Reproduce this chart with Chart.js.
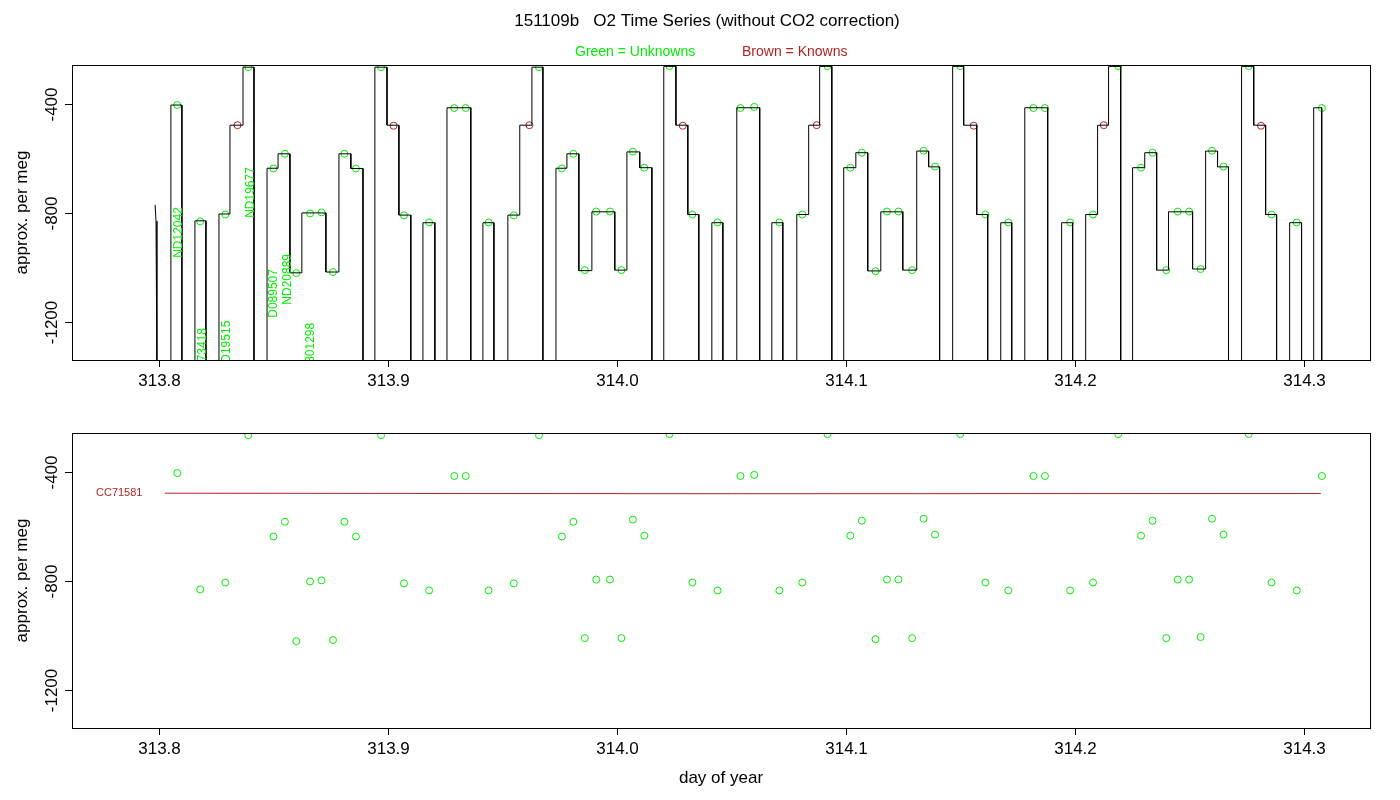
<!DOCTYPE html>
<html><head><meta charset="utf-8">
<script src="https://cdn.jsdelivr.net/npm/chart.js@4/dist/chart.umd.min.js"></script>
<style>body{margin:0;background:#fff}canvas{position:absolute;left:0}#c1{top:0}#c2{top:400px}</style>
</head><body>
<canvas id="c1" width="1400" height="400"></canvas>
<canvas id="c2" width="1400" height="400"></canvas>
<script>
// ---- DATA ----
const xTicks = [313.8, 313.9, 314.0, 314.1, 314.2, 314.3];
const yTicks = [-400, -800, -1200];
// instrument trace: each run = [t0, v0, t1, v1, ..., tEnd]; the line rises from below at t0 and falls at tEnd
const leadIn = [[313.7983, -770], [313.7987, -830], [313.7991, -1400]];
const traceRuns = [
 [313.8052,-404, 313.8100],
 [313.8157,-829, 313.8205],
 [313.8262,-804, 313.8310,-478, 313.8367,-265, 313.8415],
 [313.8472,-636, 313.8520,-583, 313.8572,-1020, 313.8624,-800, 313.8729,-1017, 313.8786,-583, 313.8838,-637, 313.8891],
 [313.8943,-265, 313.8996,-478, 313.9048,-808, 313.9100],
 [313.9153,-836, 313.9205],
 [313.9258,-414, 313.9362],
 [313.9415,-836, 313.9463],
 [313.9524,-808, 313.9576,-478, 313.9629,-265, 313.9677],
 [313.9734,-636, 313.9782,-583, 313.9834,-1012, 313.9891,-796, 313.9991,-1010, 314.0044,-576, 314.0100,-634, 314.0153],
 [314.0205,-262, 314.0258,-478, 314.0310,-806, 314.0358],
 [314.0415,-836, 314.0463],
 [314.0524,-414, 314.0624],
 [314.0677,-836, 314.0725],
 [314.0786,-806, 314.0838,-478, 314.0886,-262, 314.0939],
 [314.0991,-634, 314.1044,-579, 314.1096,-1013, 314.1153,-796, 314.1249,-1010, 314.1310,-573, 314.1362,-631, 314.1410],
 [314.1467,-262, 314.1515,-478, 314.1572,-806, 314.1620],
 [314.1677,-836, 314.1725],
 [314.1782,-414, 314.1882],
 [314.1943,-836, 314.1991],
 [314.2048,-806, 314.2100,-478, 314.2148,-262, 314.2201],
 [314.2253,-634, 314.2306,-579, 314.2358,-1010, 314.2410,-796, 314.2515,-1006, 314.2572,-573, 314.2624,-631, 314.2672],
 [314.2729,-262, 314.2782,-478, 314.2834,-806, 314.2882],
 [314.2939,-836, 314.2991],
 [314.3044,-414, 314.3079]
];
// unknown sample results (green)
const unkTimes = [313.808,313.818,313.829,313.839,313.850,313.855,313.860,313.866,313.871,313.876,313.881,313.886,
 313.897,313.907,313.918,313.929,313.934,313.944,313.955,313.966,313.976,313.981,313.986,313.991,313.997,314.002,314.007,314.012,
 314.023,314.033,314.044,314.054,314.060,314.071,314.081,314.092,314.102,314.107,314.113,314.118,314.123,314.129,314.134,314.139,
 314.150,314.161,314.171,314.182,314.187,314.198,314.208,314.219,314.229,314.234,314.240,314.245,314.250,314.255,314.260,314.265,
 314.276,314.286,314.297,314.308];
const unkVals = [-404,-831,-806,-265,-637,-583,-1021,-802,-798,-1017,-583,-637,
 -265,-809,-835,-415,-415,-835,-809,-265,-637,-583,-1010,-795,-795,-1010,-575,-634,
 -261,-806,-835,-415,-411,-835,-806,-261,-634,-579,-1014,-795,-795,-1010,-572,-630,
 -261,-806,-835,-415,-415,-835,-806,-261,-634,-579,-1010,-795,-795,-1006,-572,-630,
 -261,-806,-835,-415];
// known (brown) results
const knownTimes = [313.8343,313.9025,313.9618,314.0288,314.0873,314.1559,314.2127,314.2814];
const knownVals = [-478,-480,-478,-480,-478,-480,-478,-480];
// reference line for known CC71581
const refTimes = [313.8026, 314.05, 314.3075];
const refVals = [-478, -480, -479];
const refName = "CC71581";
// sample labels in top panel (name, time, value at text foot)
const sampleNames = ["ND12042","73418","D19515","ND19677","D089507","ND20889","0801298"];
const sampleTimes = [313.8085,313.8190,313.8295,313.8400,313.8500,313.8561,313.8662];
const sampleFoot = [-965,-1345,-1350,-818,-1185,-1137,-1375];

const XMIN = 313.762, XMAX = 314.329, YMIN = -1340, YMAX = -257;
const GREEN = '#00ee00', BROWN = '#b22222';

// build trace points
const trace = leadIn.map(p => ({x:p[0], y:p[1]}));
for (const r of traceRuns) {
  trace.push({x:r[0], y:-1400});
  for (let i = 0; i + 1 < r.length; i += 2) {
    trace.push({x:r[i], y:r[i+1]});
    trace.push({x:r[i+2], y:r[i+1]});
  }
  trace.push({x:r[r.length-1], y:-1400});
}
const unkPts = unkTimes.map((t,i)=>({x:t,y:unkVals[i]}));
const knownPts = knownTimes.map((t,i)=>({x:t,y:knownVals[i]}));
const refPts = refTimes.map((t,i)=>({x:t,y:refVals[i]}));

const FONT = '"Liberation Sans", Arial, sans-serif';
const axesPlugin = {
  id:'rAxes',
  afterDraw(chart, args, opts) {
    const ctx = chart.ctx, a = chart.chartArea, xs = chart.scales.x, ys = chart.scales.y;
    ctx.save();
    ctx.strokeStyle = '#000'; ctx.lineWidth = 1;
    ctx.strokeRect(a.left+0.5, a.top+0.5, a.right-a.left, a.bottom-a.top);
    ctx.fillStyle = '#000';
    ctx.font = '17px ' + FONT;
    ctx.textAlign = 'center'; ctx.textBaseline = 'top';
    for (const t of xTicks) {
      const px = Math.round(xs.getPixelForValue(t)) + 0.5;
      ctx.beginPath(); ctx.moveTo(px, a.bottom); ctx.lineTo(px, a.bottom+7); ctx.stroke();
      ctx.fillText(t.toFixed(1), px, a.bottom+13);
    }
    for (const v of yTicks) {
      const py = Math.round(ys.getPixelForValue(v)) + 0.5;
      ctx.beginPath(); ctx.moveTo(a.left, py); ctx.lineTo(a.left-7, py); ctx.stroke();
      ctx.save(); ctx.translate(a.left-20, py); ctx.rotate(-Math.PI/2);
      ctx.textBaseline = 'middle'; ctx.fillText(String(v), 0, 0); ctx.restore();
    }
    ctx.save(); ctx.translate(22, (a.top+a.bottom)/2); ctx.rotate(-Math.PI/2);
    ctx.textBaseline = 'middle'; ctx.fillText('approx. per meg', 0, 0); ctx.restore();
    if (opts.xTitle) { ctx.fillText(opts.xTitle, (a.left+a.right)/2, a.bottom+42); }
    if (opts.title) {
      ctx.fillText(opts.title, 707, 13);
      ctx.font = '14px ' + FONT; ctx.textAlign = 'left';
      ctx.fillStyle = GREEN; ctx.fillText('Green = Unknowns', 575, 45);
      ctx.fillStyle = BROWN; ctx.fillText('Brown = Knowns', 742, 45);
    }
    if (opts.sampleLabels) {
      ctx.save();
      ctx.beginPath(); ctx.rect(a.left, a.top, a.right-a.left, a.bottom-a.top); ctx.clip();
      ctx.fillStyle = GREEN; ctx.font = '12px ' + FONT;
      sampleNames.forEach((n,i)=>{
        ctx.save();
        ctx.translate(xs.getPixelForValue(sampleTimes[i]), ys.getPixelForValue(sampleFoot[i]));
        ctx.rotate(-Math.PI/2); ctx.textAlign='left'; ctx.textBaseline='middle';
        ctx.fillText(n, 0, 0); ctx.restore();
      });
      ctx.restore();
    }
    if (opts.refLabel) {
      ctx.fillStyle = BROWN; ctx.font = '11px ' + FONT; ctx.textAlign='left'; ctx.textBaseline='middle';
      ctx.fillText(refName, 96, ys.getPixelForValue(refVals[0]));
    }
    ctx.restore();
  }
};

const scales = {
  x:{type:'linear', min:XMIN, max:XMAX, display:false},
  y:{type:'linear', min:YMIN, max:YMAX, display:false}
};
const base = (pad, pluginOpts, datasets) => ({
  type:'scatter',
  data:{datasets},
  options:{
    responsive:false, animation:false, devicePixelRatio:1,
    layout:{padding:pad},
    scales: JSON.parse(JSON.stringify(scales)),
    plugins:{legend:{display:false}, tooltip:{enabled:false}, rAxes:pluginOpts}
  },
  plugins:[axesPlugin]
});

new Chart(document.getElementById('c1'), base(
  {left:72, top:65, right:30, bottom:40},
  {title:'151109b   O2 Time Series (without CO2 correction)', sampleLabels:true},
  [
    {data:trace, showLine:true, borderColor:'#000', borderWidth:1, pointRadius:0, tension:0},
    {data:unkPts, pointRadius:3.5, pointBorderColor:GREEN, pointBackgroundColor:'rgba(0,0,0,0)', pointBorderWidth:1},
    {data:knownPts, pointRadius:3.5, pointBorderColor:BROWN, pointBackgroundColor:'rgba(0,0,0,0)', pointBorderWidth:1}
  ]));

new Chart(document.getElementById('c2'), base(
  {left:72, top:33, right:30, bottom:72},
  {xTitle:'day of year', refLabel:true},
  [
    {data:refPts, showLine:true, borderColor:BROWN, borderWidth:1, pointRadius:0},
    {data:unkPts, pointRadius:3.5, pointBorderColor:GREEN, pointBackgroundColor:'rgba(0,0,0,0)', pointBorderWidth:1}
  ]));
</script>
</body></html>
